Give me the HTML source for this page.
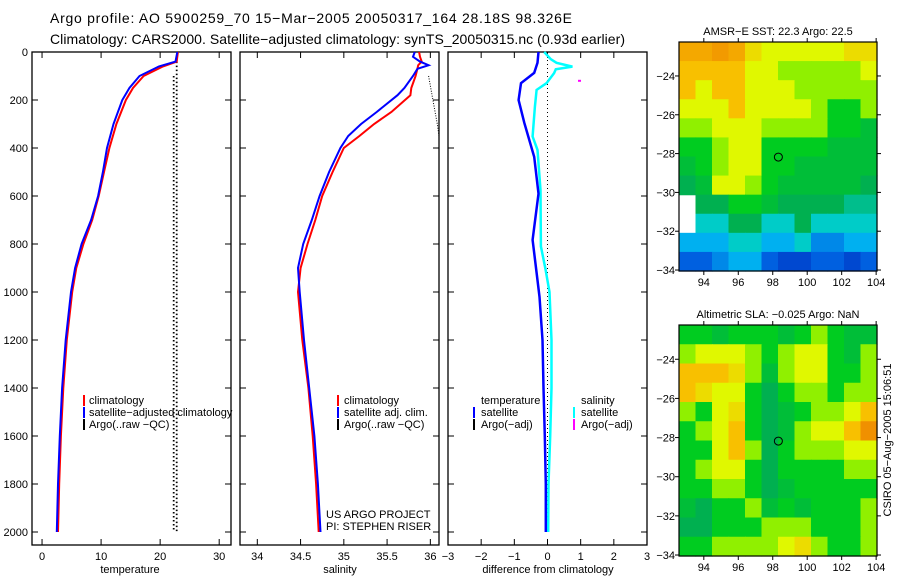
<!DOCTYPE html>
<html><head><meta charset="utf-8"><style>
body{margin:0;background:#fff}
svg{display:block;font-family:"Liberation Sans",sans-serif}
text{font-size:11px;fill:#000}
</style></head><body>
<svg id="fig" width="900" height="580" viewBox="0 0 900 580">
<text x="50" y="23" style="font-size:14px" textLength="522">Argo profile: AO 5900259_70 15−Mar−2005 20050317_164 28.18S 98.326E</text>
<text x="50" y="44" style="font-size:14px" textLength="575">Climatology: CARS2000. Satellite−adjusted climatology: synTS_20050315.nc (0.93d earlier)</text>
<g id="g"></g>
</svg>
<script>
// ---------- data ----------
const tDepth = [0,40,60,100,150,200,300,400,500,600,700,800,900,1000,1200,1400,1600,1800,2000];
const tClim  = [23,22.8,20.5,17.2,15.4,14.2,12.6,11.4,10.5,9.6,8.5,7.0,5.8,5.1,4.2,3.6,3.2,2.9,2.7];
const tSat   = [22.9,22.6,19.8,16.5,14.8,13.6,12.1,11.0,10.3,9.5,8.3,6.7,5.6,4.9,4.0,3.4,3.0,2.7,2.5];
const argoTDepthA = [100,2000], argoTA = [22.3,22.3];
const argoTDepthB = [40,2000],  argoTB = [22.8,22.8];

const sDepth = [0,20,40,55,70,100,150,180,250,300,350,400,500,600,700,800,900,1000,1200,1400,1600,1800,2000];
const sClim  = [35.87,35.88,35.9,35.86,35.85,35.83,35.78,35.77,35.55,35.35,35.18,35.0,34.87,34.75,34.67,34.58,34.5,34.47,34.52,34.59,34.64,34.68,34.71];
const sSat   = [35.82,35.8,35.88,35.98,35.85,35.8,35.7,35.62,35.38,35.2,35.05,34.96,34.83,34.72,34.63,34.53,34.47,34.49,34.54,34.6,34.66,34.7,34.73];
const argoSDepth = [100,200,300,350], argoS = [35.98,36.03,36.08,36.1];

const dDepth = [0,45,87,130,200,295,437,590,783,920,1020,1200,1400,1600,1800,2000];
const dTemp  = [-0.27,-0.3,-0.4,-0.8,-0.87,-0.7,-0.4,-0.27,-0.45,-0.33,-0.24,-0.15,-0.12,-0.08,-0.05,-0.05];
const dsDepth = [0,30,45,61,72,88,130,158,228,352,408,575,810,905,1000,1200,1400,1600,1800,2000];
const dSal    = [-0.1,0.1,0.27,0.75,0.25,0.2,-0.03,-0.33,-0.38,-0.45,-0.3,-0.21,-0.2,-0.06,0.06,0.12,0.12,0.08,0.03,0.02];
const argoAdjDepth = [120], argoAdjSal = [0.95];

const depthTicks = [0,200,400,600,800,1000,1200,1400,1600,1800,2000];
const tTicks = [0,10,20,30];
const sTicks = [34,34.5,35,35.5,36];
const sTickLabels = ["34","34.5","35","35.5","36"];
const dTicks = [-3,-2,-1,0,1,2,3];

const lonTicks = [94,96,98,100,102,104];
const latTicks = [-24,-26,-28,-30,-32,-34];
const sstGrid = [
[8.5,8.5,8.8,8.5,7.5,7,7,7,7,7,7.5,7.5],
[8,8,8,8,7,7,6,6,6,6,6,7],
[8,7,8,8,7,7,7,6,6,6,6,6],
[7,7,7,8,7,7,7,7,6,5,5,6],
[6,6,7,7,7,6,6,6,6,5,5,4.5],
[5,5,6,7,7,5,5,5,5,4.5,4.5,4.5],
[4.5,5,6,7,7,5,5,4.5,4.5,4.5,4.5,4.5],
[4,4.5,7,7,6,5,4.5,4.5,4.5,4.5,4.5,4],
[null,4,4,5,5,4.5,4,4,4,4,3.5,3.5],
[null,3,3,4,4,3,3,4,3,3,3,3],
[2,2,2,3,3,2,2,3,1.5,1.5,2,2],
[1,1,1.5,2,2,1,0.5,0.5,1,1,0.5,1]];
const slaGrid = [
[5,5,4.5,5,5,5,4.5,5,6,5,4.5,4.5],
[6,7,7,7,6,5,6,7,7,5,4.5,6],
[8,8,8,7.5,6,4.5,6,7,7,5,5,6],
[8,7.5,7,7,5,4,5,6,6,5,6,6],
[6,5,7,7.5,5,4,4.5,5,6,6,7,8],
[5,6,7,8,5,4,4.5,6,7,7,8,9],
[5,5,7,8,6,4,5,6,6,6,7,7],
[5,6,7,7,5,4,5,5,5,5,6,6],
[5,5,6,6,5,4,4.5,5,5,5,5,5],
[4.5,4,5,5,6,4.5,5,4.5,5,5,5,6],
[4,4,5,5,5,6,6,6,5,5,5,6],
[5,5,6,6,6,6,7,7.5,6,5,5,6]];
const argoLon = 98.326, argoLat = -28.18;

// ---------- helpers ----------
const NS="http://www.w3.org/2000/svg";
const G=document.getElementById('g');
function mk(tag,attrs,parent){const e=document.createElementNS(NS,tag);for(const k in attrs)e.setAttribute(k,attrs[k]);(parent||G).appendChild(e);return e;}
function txt(x,y,s,anchor,name){const e=mk('text',{x:x,y:y,'text-anchor':anchor||'start'});e.textContent=s;


return e;}
const Y0=52, Y1=545;
const yD = d => 52 + d*0.24;

function panel(x0,x1,xmin,xmax,name){
  const sx = v => x0 + (v-xmin)/(xmax-xmin)*(x1-x0);
  const r=mk('rect',{x:x0,y:Y0,width:x1-x0,height:Y1-Y0,fill:'none',stroke:'#000','stroke-width':1.3});
  
  
  depthTicks.forEach(d=>{
    mk('line',{x1:x0,x2:x0+6,y1:yD(d),y2:yD(d),stroke:'#000'});
    mk('line',{x1:x1,x2:x1-6,y1:yD(d),y2:yD(d),stroke:'#000'});
  });
  return sx;
}
function xticks(sx,ticks,labels,name){
  ticks.forEach((v,i)=>{
    const x=sx(v);
    mk('line',{x1:x,x2:x,y1:Y1,y2:Y1-6,stroke:'#000'});
    mk('line',{x1:x,x2:x,y1:Y0,y2:Y0+6,stroke:'#000'});
    txt(x,560,labels?labels[i]:String(v).replace('-','−'),'middle',name+'-tick-label');
  });
}
function line(sx,depths,vals,color,w,name,dash){
  const pts=depths.map((d,i)=>sx(vals[i]).toFixed(1)+','+yD(d).toFixed(1)).join(' ');
  const p=mk('polyline',{points:pts,fill:'none',stroke:color,'stroke-width':w});
  if(dash)p.setAttribute('stroke-dasharray',dash);
  
  
}
function legendBar(x,y,color){mk('rect',{x:x,y:y-9,width:2,height:11,fill:color});}

// depth labels
depthTicks.forEach(d=>txt(28,yD(d)+4,String(d),'end','depth-tick-label'));

// Panel 1 temperature
const sxT=panel(32,231,-1.7,32,'temperature-panel');
xticks(sxT,tTicks,null,'temperature');
txt(130,573,'temperature','middle','x-axis-title-temperature');
line(sxT,argoTDepthA,argoTA,'#000',1.8,'argo-temp-a','1.5,2.5');
line(sxT,argoTDepthB,argoTB,'#000',1.8,'argo-temp-b','1.5,2.5');
line(sxT,tDepth,tClim,'#f00',2,'temp-climatology-line');
line(sxT,tDepth,tSat,'#00f',2,'temp-satellite-line');
legendBar(83,404,'#f00');txt(89,404,'climatology','start','legend-climatology');
legendBar(83,416,'#00f');txt(89,416,'satellite−adjusted climatology','start','legend-satellite');
legendBar(83,428,'#000');txt(89,428,'Argo(..raw −QC)','start','legend-argo');

// Panel 2 salinity
const sxS=panel(240,439,33.8,36.1,'salinity-panel');
xticks(sxS,sTicks,sTickLabels,'salinity');
txt(340,573,'salinity','middle','x-axis-title-salinity');
line(sxS,argoSDepth,argoS,'#000',1,'argo-salinity','1,1.5');
line(sxS,sDepth,sClim,'#f00',2,'sal-climatology-line');
line(sxS,sDepth,sSat,'#00f',2,'sal-satellite-line');
legendBar(337,404,'#f00');txt(344,404,'climatology','start','legend-climatology-2');
legendBar(337,416,'#00f');txt(344,416,'satellite adj. clim.','start','legend-satellite-2');
legendBar(337,428,'#000');txt(344,428,'Argo(..raw −QC)','start','legend-argo-2');
txt(326,518,'US ARGO PROJECT','start','project-label');
txt(326,530,'PI: STEPHEN RISER','start','pi-label');

// Panel 3 differences
const sxD=panel(448,647,-3,3,'difference-panel');
xticks(sxD,dTicks,null,'difference');
txt(548,573,'difference from climatology','middle','x-axis-title-difference');
const zl=mk('line',{x1:sxD(0),x2:sxD(0),y1:yD(0),y2:yD(2000),stroke:'#000','stroke-dasharray':'1,3'});

line(sxD,dsDepth,dSal,'#0ff',2.5,'salinity-diff-line');
line(sxD,dDepth,dTemp,'#00f',2.5,'temperature-diff-line');
argoAdjDepth.forEach((d,i)=>{const r=mk('rect',{x:sxD(argoAdjSal[i])-1,y:yD(d)-1,width:3,height:2,fill:'#f0f'});
});
txt(481,404,'temperature','start','legend-temperature-head');
legendBar(473,416,'#00f');txt(481,416,'satellite','start','legend-temp-sat');
legendBar(473,428,'#000');txt(481,428,'Argo(−adj)','start','legend-temp-argo');
txt(581,404,'salinity','start','legend-salinity-head');
legendBar(573,416,'#0ff');txt(581,416,'satellite','start','legend-sal-sat');
legendBar(573,428,'#f0f');txt(581,428,'Argo(−adj)','start','legend-sal-argo');

// ---------- maps ----------
const cstops=[[0,0,48,192],[1,0,96,224],[2,0,176,240],[3,0,204,200],[4,0,176,80],[5,0,204,32],[6,144,240,0],[7,224,248,0],[8,248,192,0],[9,240,144,0]];
function cmap(v){v=Math.max(0,Math.min(9,v));const i=Math.min(8,Math.floor(v)),f=v-i;const a=cstops[i],b=cstops[i+1];
return 'rgb('+[1,2,3].map(k=>Math.round(a[k]+(b[k]-a[k])*f)).join(',')+')';}
function map(top,bottom,grid,title,name){
  const x0=679,x1=877,lonMin=92.56,lonMax=104.05,latTop=-22.25,latBot=-34.05;
  const sx=v=>x0+(v-lonMin)/(lonMax-lonMin)*(x1-x0);
  const sy=v=>top+(latTop-v)/(latTop-latBot)*(bottom-top);
  const rows=grid.length,cols=grid[0].length;
  const dLon=(lonMax-lonMin)/cols,dLat=(latTop-latBot)/rows;
  grid.forEach((row,r)=>row.forEach((v,c)=>{
    if(v===null)return;
    const xa=sx(lonMin+c*dLon),xb=sx(lonMin+(c+1)*dLon),ya=sy(latTop-r*dLat),yb=sy(latTop-(r+1)*dLat);
    const e=mk('rect',{x:xa.toFixed(2),y:ya.toFixed(2),width:(xb-xa+0.6).toFixed(2),height:(yb-ya+0.6).toFixed(2),fill:cmap(v)});
    
    
  }));
  const f=mk('rect',{x:x0,y:top,width:x1-x0,height:bottom-top,fill:'none',stroke:'#000','stroke-width':1.2});
  
  
  lonTicks.forEach(l=>{const x=sx(l);mk('line',{x1:x,x2:x,y1:bottom,y2:bottom+4,stroke:'#000'});mk('line',{x1:x,x2:x,y1:top,y2:top-4,stroke:'#000'});
    txt(x,bottom+15,String(l),'middle',name+'-lon-label');});
  latTicks.forEach(l=>{const y=sy(l);mk('line',{x1:x0,x2:x0-4,y1:y,y2:y,stroke:'#000'});mk('line',{x1:x1,x2:x1+4,y1:y,y2:y,stroke:'#000'});
    txt(x0-4,y+4,String(l).replace('-','−'),'end',name+'-lat-label');});
  const m=mk('circle',{cx:sx(argoLon),cy:sy(argoLat),r:4,fill:'none',stroke:'#000','stroke-width':1});
  
  
  txt(778,top-7,title,'middle',name+'-title');
}
map(42,271,sstGrid,'AMSR−E SST: 22.3 Argo: 22.5','sst-map');
map(325,556,slaGrid,'Altimetric SLA: −0.025 Argo: NaN','sla-map');
const st=txt(0,0,'CSIRO 05−Aug−2005 15:06:51','middle','timestamp-label');
st.setAttribute('transform','translate(891,440) rotate(-90)');
</script>
</body></html>
